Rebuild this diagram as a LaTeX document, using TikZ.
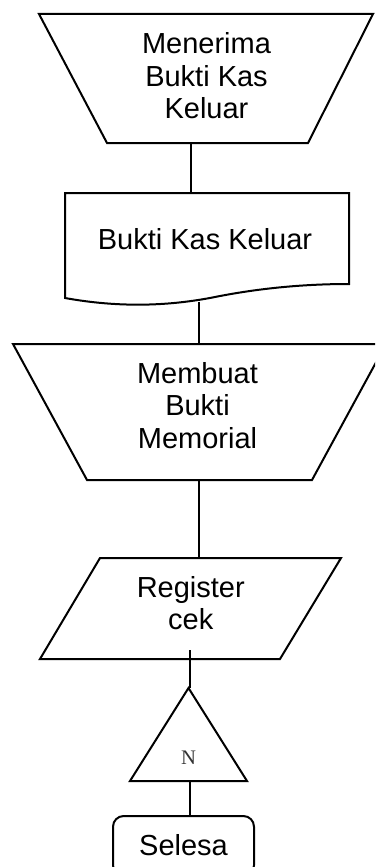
\documentclass[tikz,border=0pt]{standalone}
\usepackage{fontspec}
\setmainfont{Liberation Sans}
\newfontfamily\serifN{Liberation Serif}
\begin{document}
\begin{tikzpicture}[x=0.75pt,y=-0.75pt,
  shapeline/.style={draw=black,line width=1.5pt,line join=miter},
  conn/.style={draw=black,line width=1.5pt},
  label/.style={inner sep=0pt,align=center,font=\fontsize{21.75}{24.4}\selectfont},
  marktext/.style={inner sep=0pt,text=black!80,font=\serifN\fontsize{15.5}{18}\selectfont}]
\useasboundingbox (0,0) rectangle (375,867);
\clip (0,0) rectangle (375,867);

% manual operation: receive the cash-out voucher
\draw[shapeline] (39,14) -- (373,14) -- (308,143) -- (107,143) -- cycle;
\node[label] (terima) at (206.5,76) {Menerima\\Bukti Kas\\Keluar};
\coordinate (terimaB) at (190.7,143);

% document
\draw[shapeline] (65,193) -- (349,193) -- (349,284)
  .. controls (300,284) and (255,289) .. (215,297)
  .. controls (170,306) and (120,308) .. (65,298) -- cycle;
\node[label] (bkk) at (205,239) {Bukti Kas Keluar};
\coordinate (bkkT) at (190.7,193);
\coordinate (bkkB) at (199.3,302);

% manual operation: create the memorial voucher
\draw[shapeline] (13,344) -- (386,344) -- (312,480) -- (87,480) -- cycle;
\node[label] (memorial) at (197.5,405.5) {Membuat\\Bukti\\Memorial};
\coordinate (memT) at (199.3,344);
\coordinate (memB) at (199.3,480);

% data: cheque register
\draw[shapeline] (100,558) -- (341,558) -- (280,659) -- (40,659) -- cycle;
\node[label] (register) at (190.8,603) {Register\\cek};
\coordinate (regT) at (199.3,558);
\coordinate (regB) at (190.3,650);

% offline file
\draw[shapeline] (188.5,688) -- (247,781) -- (130,781) -- cycle;
\node[marktext] (arsip) at (188.5,758) {N};
\coordinate (arsipT) at (190.3,688);
\coordinate (arsipB) at (190.3,781);

% terminator
\draw[shapeline,rounded corners=8] (113,816) rectangle (254,876);
\node[label] (selesai) at (183.5,845.5) {Selesa};
\coordinate (selT) at (190.3,816);

% connectors
\draw[conn] (terimaB) -- (bkkT);
\draw[conn] (bkkB) -- (memT);
\draw[conn] (memB) -- (regT);
\draw[conn] (regB) -- (arsipT);
\draw[conn] (arsipB) -- (selT);
\end{tikzpicture}
\end{document}
